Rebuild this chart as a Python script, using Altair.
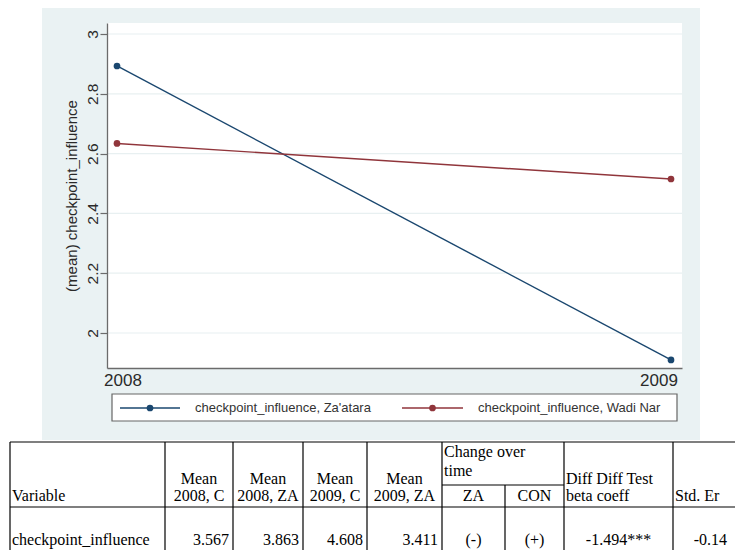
import altair as alt
import pandas as pd

# ---------------- data ----------------
years = [2008, 2009]
zaatara = [2.893, 1.910]
wadi_nar = [2.634, 2.515]
series_names = ["checkpoint_influence, Za'atara", "checkpoint_influence, Wadi Nar"]
series_colors = ["#1a476f", "#90353b"]
y_ticks = [2.0, 2.2, 2.4, 2.6, 2.8, 3.0]
y_title = "(mean) checkpoint_influence"

header_var = "Variable"
header_mean = [["Mean", "2008, C"], ["Mean", "2008, ZA"], ["Mean", "2009, C"], ["Mean", "2009, ZA"]]
header_change = ["Change over", "time"]
header_change_sub = ["ZA", "CON"]
header_diff = ["Diff Diff Test", "beta coeff"]
header_se = "Std. Er"
row_variable = "checkpoint_influence"
row_means = ["3.567", "3.863", "4.608", "3.411"]
row_changes = ["(-)", "(+)"]
row_beta = "-1.494***"
row_se = "-0.14"

# ---------------- layout (page pixels) ----------------
PL, PR, PT, PB = 107, 682, 23, 368
W, H = PR - PL, PB - PT
CW, CH = 727, 542
PAD = {"left": PL - 8, "top": PT - 8, "right": CW - (PL - 8) - W, "bottom": CH - (PT - 8) - H}


def cx(x):
    return x - PL


def cy(y):
    return y - PT


PX = 554.0  # pixels per year
PY = 299.0  # pixels per unit
x_dom = [2008 - 10 / PX, 2009 + 11 / PX]
y_dom = [2 - 35 / PY, 3 + 11 / PY]

SANS = "Liberation Sans"
SERIF = "Liberation Serif"
AXIS_GRAY = "#6b6b6b"
LABEL = "#2a2a2a"
BG = "#eaf2f3"

# ---------------- graph ----------------
df = pd.DataFrame({
    "year": years * 2,
    "value": zaatara + wadi_nar,
    "series": [n for n in series_names for _ in years],
})

xs = alt.Scale(domain=x_dom, nice=False, zero=False)
ys = alt.Scale(domain=y_dom, nice=False, zero=False)
col = alt.Color("series:N", scale=alt.Scale(domain=series_names, range=series_colors), legend=None)

xaxis = alt.Axis(values=years, format="d", title=None, grid=False, ticks=False,
                 domainColor=AXIS_GRAY, domainWidth=1.3, labelFont=SANS, labelFontSize=17,
                 labelColor=LABEL, labelPadding=4, labelAlign="center", labelFlush=False,
                 labelOffset=alt.ExprRef("datum.value == 2008 ? 5.5 : -12.5"), zindex=1)
yaxis = alt.Axis(values=y_ticks, format="~g", title=y_title, grid=False, tickSize=7,
                 tickColor=AXIS_GRAY, tickWidth=1.2, domainColor=AXIS_GRAY, domainWidth=1.3,
                 labelAngle=270, labelAlign="center", labelBaseline="alphabetic", labelPadding=3,
                 labelFont=SANS, labelFontSize=15.5, labelColor=LABEL, labelFlush=False,
                 titleFont=SANS, titleFontSize=15, titleFontWeight="normal", titleColor=LABEL,
                 titlePadding=6, zindex=1)

lines = alt.Chart(df).mark_line(strokeWidth=1.4).encode(
    x=alt.X("year:Q", scale=xs, axis=xaxis),
    y=alt.Y("value:Q", scale=ys, axis=yaxis),
    color=col,
)
points = alt.Chart(df).mark_circle(size=45, opacity=1).encode(
    x=alt.X("year:Q", scale=xs),
    y=alt.Y("value:Q", scale=ys),
    color=col,
)

grid = alt.Chart(pd.DataFrame({"t": y_ticks})).mark_rule(color="#e8f0f1", strokeWidth=1.2).encode(
    y=alt.Y("t:Q", scale=ys),
    x=alt.value(0),
    x2=alt.value(W),
)


def rect_layer(x1, x2, y1, y2, fill, stroke=None, sw=0):
    d = pd.DataFrame({"x": [cx(x1)], "x2": [cx(x2)], "y": [cy(y1)], "y2": [cy(y2)]})
    kw = {"fill": fill}
    if stroke:
        kw.update(stroke=stroke, strokeWidth=sw)
    return alt.Chart(d).mark_rect(**kw).encode(
        x=alt.X("x:Q", scale=None, axis=None), x2="x2:Q",
        y=alt.Y("y:Q", scale=None, axis=None), y2="y2:Q",
    )


bg = rect_layer(42, 700, 8, 440, BG)
plot_bg = rect_layer(PL, PR, PT, PB, "#ffffff")

# ---------------- legend ----------------
LEG_Y = 408
leg_sym = [(120, 180), (402, 463)]
leg_txt = [195, 478]
legend_box = rect_layer(112, 677, 394, 421, "#ffffff", "#666666", 1.2)
leg_line_df = pd.DataFrame({
    "x": [cx(a) for a, b in leg_sym], "x2": [cx(b) for a, b in leg_sym],
    "y": [cy(LEG_Y)] * 2, "series": series_names,
})
leg_lines = alt.Chart(leg_line_df).mark_rule(strokeWidth=1.4).encode(
    x=alt.X("x:Q", scale=None, axis=None), x2="x2:Q",
    y=alt.Y("y:Q", scale=None, axis=None), color=col,
)
leg_pt_df = pd.DataFrame({
    "x": [cx((a + b) / 2) for a, b in leg_sym], "y": [cy(LEG_Y)] * 2, "series": series_names,
})
leg_points = alt.Chart(leg_pt_df).mark_circle(size=45, opacity=1).encode(
    x=alt.X("x:Q", scale=None, axis=None), y=alt.Y("y:Q", scale=None, axis=None), color=col,
)
leg_txt_df = pd.DataFrame({"x": [cx(v) for v in leg_txt], "y": [cy(LEG_Y)] * 2, "label": series_names})
leg_text = alt.Chart(leg_txt_df).mark_text(align="left", baseline="middle", font=SANS,
                                           fontSize=13, color="#333333").encode(
    x=alt.X("x:Q", scale=None, axis=None), y=alt.Y("y:Q", scale=None, axis=None), text="label:N",
)

# ---------------- table ----------------
T_TOP, T_SUB, T_HDR, T_BOT = 442, 485, 507, 560
T_RIGHT = 745
col_edges = [10, 165, 233, 303, 367, 442, 564, 673]
za_con_edge = 505

rules = []
rules.append((10, T_RIGHT, T_TOP, T_TOP))
rules.append((10, T_RIGHT, T_HDR, T_HDR))
rules.append((442, 564, T_SUB, T_SUB))
for e in col_edges:
    rules.append((e, e, T_TOP, T_BOT))
rules.append((za_con_edge, za_con_edge, T_SUB, T_BOT))
rule_df = pd.DataFrame({
    "x": [cx(r[0]) for r in rules], "x2": [cx(r[1]) for r in rules],
    "y": [cy(r[2]) for r in rules], "y2": [cy(r[3]) for r in rules],
})
table_rules = alt.Chart(rule_df).mark_rule(color="#000000", strokeWidth=1.2).encode(
    x=alt.X("x:Q", scale=None, axis=None), x2="x2:Q",
    y=alt.Y("y:Q", scale=None, axis=None), y2="y2:Q",
)

B1, B2, BROW = 484, 501, 545
BC1, BC2 = 457, 476
left_items = [
    (12, B2, header_var),
    (444, BC1, header_change[0]),
    (444, BC2, header_change[1]),
    (566, B1, header_diff[0]),
    (566, B2, header_diff[1]),
    (675, B2, header_se),
    (12, BROW, row_variable),
]
center_items = []
for i, (l1, l2) in enumerate(header_mean):
    c = (col_edges[i + 1] + col_edges[i + 2]) / 2
    center_items.append((c, B1, l1))
    center_items.append((c, B2, l2))
za_c = (442 + za_con_edge) / 2
con_c = (za_con_edge + 564) / 2
center_items += [
    (za_c, B2, header_change_sub[0]),
    (con_c, B2, header_change_sub[1]),
    (za_c, BROW, row_changes[0]),
    (con_c, BROW, row_changes[1]),
    ((564 + 673) / 2, BROW, row_beta),
]
right_items = []
for i, v in enumerate(row_means):
    right_items.append((col_edges[i + 2] - 4, BROW, v))
right_items.append((727, BROW, row_se))


def text_layer(items, align):
    d = pd.DataFrame({"x": [cx(a) for a, b, c in items], "y": [cy(b) for a, b, c in items],
                      "t": [c for a, b, c in items]})
    return alt.Chart(d).mark_text(align=align, baseline="alphabetic", font=SERIF,
                                  fontSize=16, color="#000000").encode(
        x=alt.X("x:Q", scale=None, axis=None), y=alt.Y("y:Q", scale=None, axis=None), text="t:N",
    )


chart = alt.layer(
    bg, plot_bg, grid, lines, points,
    legend_box, leg_lines, leg_points, leg_text,
    table_rules,
    text_layer(left_items, "left"), text_layer(center_items, "center"), text_layer(right_items, "right"),
).properties(
    width=W, height=H, padding=PAD,
    autosize=alt.AutoSizeParams(type="none"),
    background="white",
).configure_view(stroke=None)

chart.save("out.html", embed_options={"renderer": "svg", "actions": False})
